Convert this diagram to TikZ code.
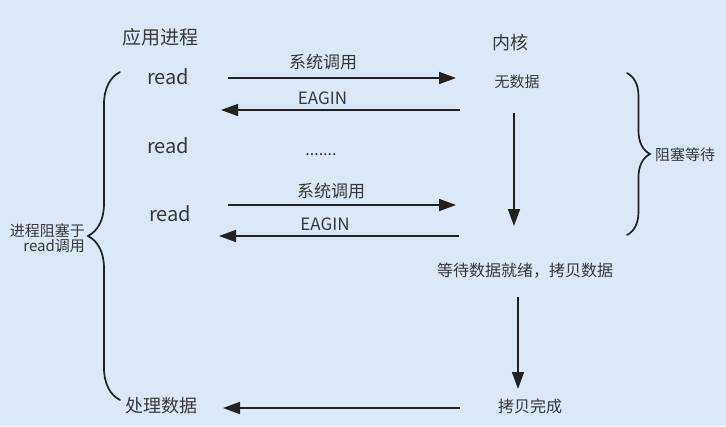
\documentclass[tikz,border=0pt]{standalone}
\usepackage{fontspec}
\setmainfont{Noto Sans CJK SC}
\usetikzlibrary{positioning,arrows.meta,decorations.pathreplacing}
\definecolor{bgblue}{HTML}{DAE8F7}
\definecolor{txtgray}{HTML}{383838}
\definecolor{linegray}{HTML}{222222}
\newcommand{\fsz}[1]{\fontsize{#1}{#1}\selectfont}
\tikzset{font=\fsz{16}}

\begin{document}
\begin{tikzpicture}[x=1pt, y=-1pt,
	arr/.style={-{Triangle[length=17pt,width=12pt]}, line width=1.7pt, draw=linegray},
	brc/.style={decorate, decoration={brace, amplitude=#1}, line width=1.7pt, draw=linegray}]
	\fill[bgblue] (0,0) rectangle (726,426);
	\useasboundingbox (0,0) rectangle (726,426);
	\begin{scope}
		\tikzset{every node/.style={align=center, inner sep=1pt, text=txtgray}}
		\node[font=\fsz{19}] (app) at (160, 37) {应用进程};
		\node[font=\fsz{18}] (kern) at (510, 43) {内核};
		\node[font=\fsz{20}] (r1) at (168, 77) {read};
		\node[font=\fsz{20}] (r2) at (168, 146) {read};
		\node[font=\fsz{20}] (r3) at (170, 214) {read};
		\node[font=\fsz{18}] (proc) at (161, 406) {处理数据};
		\node[font=\fsz{15}] (nodata) at (517, 82) {无数据};
		\node (wait) at (525, 271) {等待数据就绪，拷贝数据};
		\node (done) at (530, 406) {拷贝完成};
		\node (dots) at (321, 155) {.......};
		\node[font=\fsz{15}, align=right, anchor=east] (blk) at (86, 238) {进程阻塞于\\read调用};
		\node[font=\fsz{15}, anchor=west] (wtg) at (654, 155) {阻塞等待};

		\coordinate (a1s) at (228, 78);  \coordinate (a1e) at (456, 78);
		\coordinate (a2s) at (460, 110); \coordinate (a2e) at (221, 110);
		\coordinate (a3s) at (228, 205); \coordinate (a3e) at (456, 205);
		\coordinate (a4s) at (459, 236); \coordinate (a4e) at (219, 236);
		\coordinate (v1s) at (514, 113); \coordinate (v1e) at (514, 226);
		\coordinate (v2s) at (518, 297); \coordinate (v2e) at (518, 389);
		\coordinate (a5s) at (460, 408); \coordinate (a5e) at (223, 408);

		\draw[arr] (a1s) -- node[above=6pt, font=\fsz{17}, xshift=-19pt] (sc1) {系统调用} (a1e);
		\draw[arr] (a2s) -- node[above=3pt, font=\fsz{17}, xshift=-18pt] (eg1) {EAGIN} (a2e);
		\draw[arr] (a3s) -- node[above=4pt, font=\fsz{17}, xshift=-11pt] (sc2) {系统调用} (a3e);
		\draw[arr] (a4s) -- node[above=3pt, font=\fsz{17}, xshift=-14pt] (eg2) {EAGIN} (a4e);
		\draw[arr] (v1s) -- (v1e);
		\draw[arr] (v2s) -- (v2e);
		\draw[arr] (a5s) -- (a5e);

		\draw[brc=32pt, line cap=round] (120, 400) -- (120, 72);
		\draw[brc=23pt, line cap=round] (627, 73) -- (627, 235);
	\end{scope}
\end{tikzpicture}
\end{document}
